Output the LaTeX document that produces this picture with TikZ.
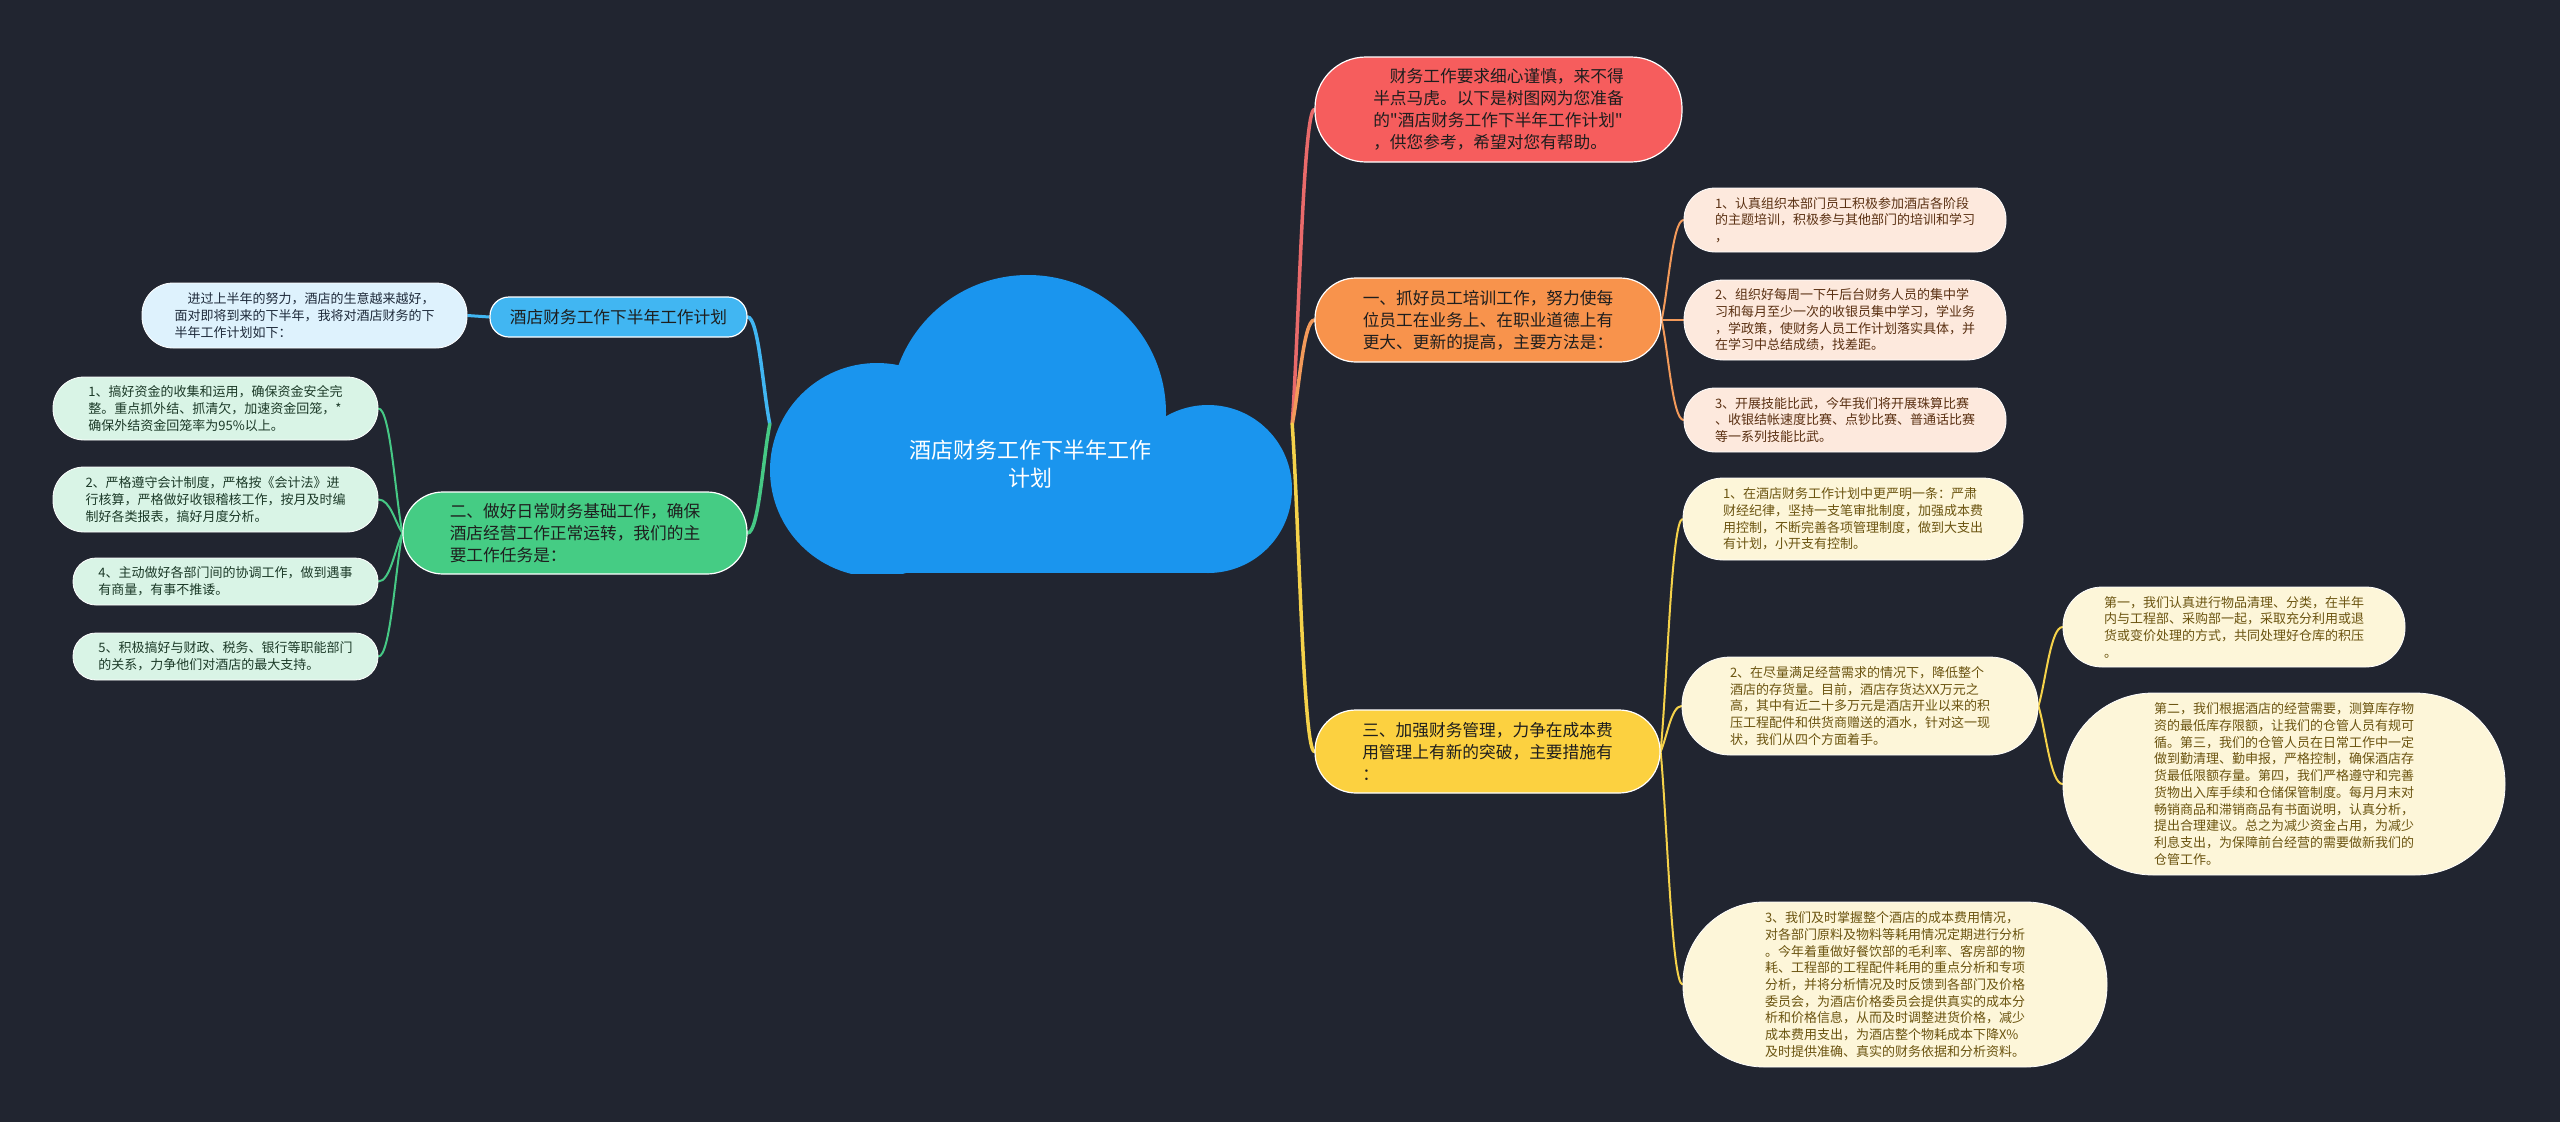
\documentclass[tikz,border=0pt]{standalone}
\usepackage{fontspec}
\setmainfont{Noto Sans CJK SC}[Ligatures=TeXOff]
\usetikzlibrary{calc}
\pgfdeclarelayer{bg}
\pgfdeclarelayer{lines}
\pgfsetlayers{bg,lines,main}
\definecolor{bgc}{HTML}{212530}
\definecolor{cloudc}{HTML}{1A95EE}
\definecolor{redc}{HTML}{F65D5D}
\definecolor{orangec}{HTML}{F8934C}
\definecolor{yellowc}{HTML}{FCD140}
\definecolor{bluec}{HTML}{41B6F2}
\definecolor{greenc}{HTML}{45CC84}
\definecolor{orangel}{HTML}{FDE9DD}
\definecolor{yellowl}{HTML}{FDF6D9}
\definecolor{bluel}{HTML}{DEF2FD}
\definecolor{greenl}{HTML}{D9F4E6}
\definecolor{redline}{HTML}{E96A6A}
\definecolor{orangeline}{HTML}{F39A5A}
\definecolor{yellowline}{HTML}{F5D24A}
\definecolor{greenline}{HTML}{46C985}
\definecolor{darktext}{HTML}{1E1E1E}
\definecolor{otext}{HTML}{5A3012}
\definecolor{ytext}{HTML}{6B5410}
\definecolor{btext}{HTML}{1E2A3A}
\definecolor{gtext}{HTML}{1C3A28}
\begin{document}
\begin{tikzpicture}[x=1pt,y=-1pt,
  box/.style={draw=white, line width=1.2pt, inner sep=0pt, align=left},
  big/.style={box, text=darktext, font=\fontsize{16.7}{22}\selectfont},
  small/.style={box, line width=0.8pt, font=\fontsize{13}{16.7}\selectfont},
  conn/.style={line width=3.5pt, line cap=round},
  sub/.style={line width=2pt, line cap=round},
  curvy/.style={to path={let \p1=(\tikztostart), \p2=(\tikztotarget) in
     .. controls ($(\p1)!0.3!(\p2)$) and ({0.5*\x1+0.5*\x2},\y2) .. (\tikztotarget)}}
]
\begin{pgfonlayer}{bg}
\fill[bgc] (0,0) rectangle (2560,1122);
\end{pgfonlayer}
\useasboundingbox (0,0) rectangle (2560,1122);

% cloud
\begin{scope}
\clip (760,260) rectangle (1300,573);
\fill[cloudc] (877,470) circle[radius=107pt];
\fill[cloudc] (1028,413) circle[radius=138pt];
\fill[cloudc] (1208,489) circle[radius=84pt];
\fill[cloudc] (877,430) rectangle (1208,573);
\end{scope}
\node[inner sep=0pt, minimum width=522pt, minimum height=298pt] (root) at (1031,424) {};
\node[text=white, align=center, font=\fontsize{22}{28.5}\selectfont] (roottext) at (1030,464) {酒店财务工作下半年工作\\计划};

% right level 1
\node[big, fill=redc, minimum width=367pt, minimum height=105pt, rounded corners=51pt] (red) at (1498.5,109.5)
{\hspace*{1em}财务工作要求细心谨慎，来不得\\半点马虎。以下是树图网为您准备\\的"酒店财务工作下半年工作计划"\\，供您参考，希望对您有帮助。};
\node[big, fill=orangec, minimum width=346pt, minimum height=84pt, rounded corners=41pt] (orange) at (1488,320)
{一、抓好员工培训工作，努力使每\\位员工在业务上、在职业道德上有\\更大、更新的提高，主要方法是：};
\node[big, fill=yellowc, minimum width=345pt, minimum height=83pt, rounded corners=41pt] (yellow) at (1487.5,751.5)
{三、加强财务管理，力争在成本费\\用管理上有新的突破，主要措施有\\：};

% orange children
\node[small, fill=orangel, text=otext, minimum width=322pt, minimum height=64pt, rounded corners=31pt] (o1) at (1845,220)
{1、认真组织本部门员工积极参加酒店各阶段\\的主题培训，积极参与其他部门的培训和学习\\，};
\node[small, fill=orangel, text=otext, minimum width=322pt, minimum height=80pt, rounded corners=39pt] (o2) at (1845,320)
{2、组织好每周一下午后台财务人员的集中学\\习和每月至少一次的收银员集中学习，学业务\\，学政策，使财务人员工作计划落实具体，并\\在学习中总结成绩，找差距。};
\node[small, fill=orangel, text=otext, minimum width=322pt, minimum height=64pt, rounded corners=31pt] (o3) at (1845,420)
{3、开展技能比武，今年我们将开展珠算比赛\\、收银结帐速度比赛、点钞比赛、普通话比赛\\等一系列技能比武。};

% yellow children
\node[small, fill=yellowl, text=ytext, minimum width=340pt, minimum height=82pt, rounded corners=40pt] (y1) at (1853,519)
{1、在酒店财务工作计划中更严明一条：严肃\\财经纪律，坚持一支笔审批制度，加强成本费\\用控制，不断完善各项管理制度，做到大支出\\有计划，小开支有控制。};
\node[small, fill=yellowl, text=ytext, minimum width=356pt, minimum height=98pt, rounded corners=48pt] (y2) at (1860,706)
{2、在尽量满足经营需求的情况下，降低整个\\酒店的存货量。目前，酒店存货达XX万元之\\高，其中有近二十多万元是酒店开业以来的积\\压工程配件和供货商赠送的酒水，针对这一现\\状，我们从四个方面着手。};
\node[small, fill=yellowl, text=ytext, minimum width=342pt, minimum height=80pt, rounded corners=39pt] (y2a) at (2234,627)
{第一，我们认真进行物品清理、分类，在半年\\内与工程部、采购部一起，采取充分利用或退\\货或变价处理的方式，共同处理好仓库的积压\\。};
\node[small, fill=yellowl, text=ytext, minimum width=442pt, minimum height=182pt, rounded corners=90pt] (y2b) at (2284,784)
{第二，我们根据酒店的经营需要，测算库存物\\资的最低库存限额，让我们的仓管人员有规可\\循。第三，我们的仓管人员在日常工作中一定\\做到勤清理、勤申报，严格控制，确保酒店存\\货最低限额存量。第四，我们严格遵守和完善\\货物出入库手续和仓储保管制度。每月月末对\\畅销商品和滞销商品有书面说明，认真分析，\\提出合理建议。总之为减少资金占用，为减少\\利息支出，为保障前台经营的需要做新我们的\\仓管工作。};
\node[small, fill=yellowl, text=ytext, minimum width=424pt, minimum height=165pt, rounded corners=81pt] (y3) at (1895,984.5)
{3、我们及时掌握整个酒店的成本费用情况，\\对各部门原料及物料等耗用情况定期进行分析\\。今年着重做好餐饮部的毛利率、客房部的物\\耗、工程部的工程配件耗用的重点分析和专项\\分析，并将分析情况及时反馈到各部门及价格\\委员会，为酒店价格委员会提供真实的成本分\\析和价格信息，从而及时调整进货价格，减少\\成本费用支出，为酒店整个物耗成本下降X\%\\及时提供准确、真实的财务依据和分析资料。};

% left side
\node[big, fill=bluec, align=center, minimum width=257pt, minimum height=40pt, rounded corners=19pt] (blue) at (618.5,317)
{酒店财务工作下半年工作计划};
\node[small, fill=bluel, text=btext, minimum width=325pt, minimum height=65pt, rounded corners=31pt] (lb) at (304.5,315.5)
{\hspace*{1em}进过上半年的努力，酒店的生意越来越好，\\面对即将到来的下半年，我将对酒店财务的下\\半年工作计划如下：};
\node[big, fill=greenc, minimum width=344pt, minimum height=82pt, rounded corners=40pt] (green) at (575,533)
{二、做好日常财务基础工作，确保\\酒店经营工作正常运转，我们的主\\要工作任务是：};
\node[small, fill=greenl, text=gtext, minimum width=325pt, minimum height=63pt, rounded corners=31pt] (g1) at (215.5,408.5)
{1、搞好资金的收集和运用，确保资金安全完\\整。重点抓外结、抓清欠，加速资金回笼，*\\确保外结资金回笼率为95\%以上。};
\node[small, fill=greenl, text=gtext, minimum width=325pt, minimum height=65pt, rounded corners=31pt] (g2) at (215.5,499.5)
{2、严格遵守会计制度，严格按《会计法》进\\行核算，严格做好收银稽核工作，按月及时编\\制好各类报表，搞好月度分析。};
\node[small, fill=greenl, text=gtext, minimum width=305pt, minimum height=47pt, rounded corners=23pt] (g4) at (225.5,581.5)
{4、主动做好各部门间的协调工作，做到遇事\\有商量，有事不推诿。};
\node[small, fill=greenl, text=gtext, minimum width=305pt, minimum height=47pt, rounded corners=23pt] (g5) at (225.5,656.5)
{5、积极搞好与财政、税务、银行等职能部门\\的关系，力争他们对酒店的最大支持。};

% connectors
\begin{pgfonlayer}{lines}
\draw[conn, redline] (root.east) to[curvy] (red.west);
\draw[conn, orangeline] (root.east) to[curvy] (orange.west);
\draw[conn, yellowline] (root.east) to[curvy] (yellow.west);
\draw[conn, bluec] (root.west) to[curvy] (blue.east);
\draw[conn, greenline] (root.west) to[curvy] (green.east);
\draw[line width=3pt, bluec] (blue.west) -- (lb.east);
\draw[sub, orangeline] (orange.east) to[curvy] (o1.west);
\draw[sub, orangeline] (orange.east) to[curvy] (o2.west);
\draw[sub, orangeline] (orange.east) to[curvy] (o3.west);
\draw[sub, yellowline] (yellow.east) to[curvy] (y1.west);
\draw[sub, yellowline] (yellow.east) to[curvy] (y2.west);
\draw[sub, yellowline] (yellow.east) to[curvy] (y3.west);
\draw[sub, yellowline] (y2.east) to[curvy] (y2a.west);
\draw[sub, yellowline] (y2.east) to[curvy] (y2b.west);
\draw[sub, greenline] (green.west) to[curvy] (g1.east);
\draw[sub, greenline] (green.west) to[curvy] (g2.east);
\draw[sub, greenline] (green.west) to[curvy] (g4.east);
\draw[sub, greenline] (green.west) to[curvy] (g5.east);
\end{pgfonlayer}
\end{tikzpicture}
\end{document}
